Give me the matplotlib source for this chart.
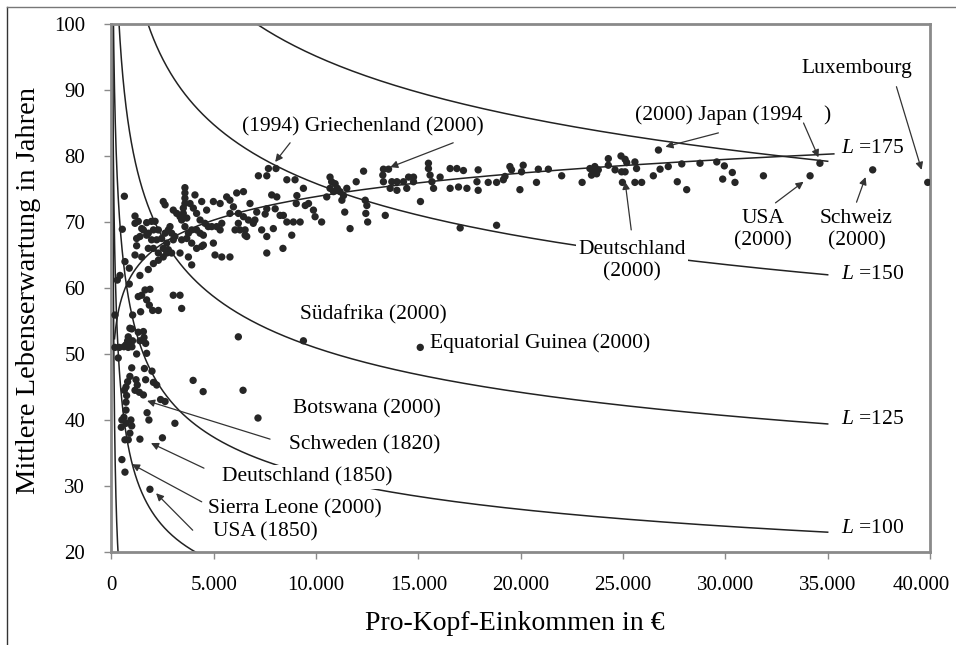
import matplotlib
matplotlib.use('Agg')
import matplotlib.pyplot as plt
import numpy as np
from matplotlib.ticker import FuncFormatter, MultipleLocator
from matplotlib.lines import Line2D

plt.rcParams['font.family'] = ['Liberation Serif', 'DejaVu Serif']
plt.rcParams['mathtext.fontset'] = 'custom'
plt.rcParams['mathtext.it'] = 'Liberation Serif:italic'
plt.rcParams['mathtext.rm'] = 'Liberation Serif'

# Laender (Einkommen in Euro, Lebenserwartung in Jahren)
low_inc = [990, 1310, 1560, 1590, 1390, 1670, 1720, 820, 790, 900, 1030, 710, 170, 380, 610,
           820, 1000, 1230, 330, 990, 900, 790, 710, 630, 740, 710, 1200, 1260, 1150, 1360,
           1560, 1610, 1670, 1980, 2050, 2210, 2400, 2620, 710, 610, 510, 710, 950, 990, 900,
           820, 660, 1740, 1830, 480, 1390, 3100, 2490, 510, 660, 1880]
low_life = [53.8, 53.3, 53.4, 52.5, 52.0, 51.6, 50.1, 52.6, 52.0, 51.6, 52.0, 51.4, 51.0, 51.0, 51.1,
            51.0, 51.1, 50.0, 49.4, 47.9, 46.6, 45.8, 45.0, 44.5, 43.7, 42.7, 46.1, 45.3, 44.5, 44.2,
            43.8, 47.8, 46.1, 47.4, 45.7, 45.3, 43.1, 42.8, 41.5, 40.4, 40.0, 39.5, 40.0, 39.1, 38.0,
            37.0, 37.0, 41.1, 40.0, 38.9, 37.1, 39.5, 37.3, 34.0, 32.1, 29.5]

mid_inc = [285, 415, 660, 870, 870, 1390, 1800, 1150, 1230, 1880, 1640, 1475, 1720, 1310, 1850,
           2010, 2290, 1425, 1035, 170, 3020, 3350, 3430, 900, 630, 530,
           1150, 1150, 1310, 1480, 1720, 1960, 2130, 1560, 1800, 2050, 2290, 1390, 1720, 1960, 2210,
           1230, 1800, 2050, 2290, 1480, 2050, 2290, 2530, 2700,
           2450, 2620, 2780, 2860, 2940, 3100, 3020, 2700, 2530, 2780, 2940,
           2530, 2620, 3020, 3190, 3350, 3510, 3680, 3590, 3590, 3590, 3590, 3510, 3430, 3590, 3760,
           3920, 4160, 4330, 4490, 3840, 4000, 4160, 4330, 4570, 4730, 4900, 5140, 5310, 5390, 4080,
           4410, 4650, 4980, 5310, 3430, 3680, 3920, 4160, 4410, 3760, 3920, 3350, 4490, 4980, 5060,
           5390, 5790, 6530, 5630, 5790, 6120, 6450, 5960, 6200, 5790, 6450, 6200, 6040, 6280, 6530,
           6690, 6610, 7180, 7590, 7670, 8040, 8570, 8970, 9380]
mid_life = [61.2, 61.9, 64.0, 63.0, 60.6, 61.9, 62.8, 65.0, 67.5, 59.8, 59.7, 58.9, 58.2, 58.7, 57.4,
            56.6, 56.6, 56.4, 55.9, 55.9, 58.9, 58.9, 56.9, 53.9, 73.9, 68.9,
            70.9, 69.8, 70.1, 69.0, 69.9, 70.1, 70.1, 68.8, 68.3, 68.8, 68.8, 67.8, 68.0, 67.3, 67.3,
            66.4, 66.0, 66.0, 65.3, 64.7, 63.7, 64.2, 64.7, 65.3,
            67.5, 68.3, 68.8, 69.3, 68.3, 67.8, 67.3, 66.8, 66.0, 65.8, 65.3,
            73.1, 72.6, 71.8, 71.3, 70.8, 71.3, 70.6, 75.2, 74.4, 73.6, 72.8, 72.1, 70.3, 69.3, 68.3,
            68.8, 68.8, 68.3, 68.0, 72.8, 72.1, 71.3, 70.3, 69.8, 69.3, 69.3, 69.3, 68.8, 69.8, 74.1,
            73.1, 71.8, 73.1, 72.8, 67.3, 67.5, 66.8, 66.0, 66.3, 64.7, 63.5, 65.3, 66.5, 66.8, 65.0,
            64.7, 64.7, 68.0, 73.8, 73.3, 74.4, 74.6, 72.3, 71.3, 71.3, 70.8, 69.8, 68.8, 68.8, 68.8,
            70.3, 67.8, 77.0, 77.0, 78.1, 78.1, 76.4, 76.4, 75.1]

band_inc = [6770, 7100, 7010, 6930, 7340, 7590, 7510, 7590, 7830, 8080, 8000, 8240, 8400, 8570, 8890,
            9220, 7910, 8810, 7590, 8380, 9060, 9030, 9470, 9870, 9950, 10270, 9630, 10520, 10850,
            11340, 11260, 11400, 11660, 12400, 12480, 12430, 12520, 13380, 15100, 17040,
            10680, 10760, 10930, 11040, 10680, 11170, 11500, 12320, 11960, 13290, 13540, 13260, 13290,
            13700, 13950, 14270, 14520, 14760, 14760, 13620, 13950, 14430, 15490, 15490, 15570, 15660,
            15740, 16060, 16550, 16880, 17200, 16550, 16960, 17370, 17860]
band_life = [72.8, 71.5, 70.3, 69.8, 68.8, 67.8, 71.2, 72.0, 74.1, 73.8, 72.0, 71.0, 71.0, 70.0, 70.0,
             70.0, 69.0, 68.0, 65.3, 66.0, 74.0, 72.8, 72.5, 71.8, 70.8, 70.0, 72.8, 73.8, 74.6,
             74.0, 73.3, 71.5, 69.0, 73.3, 72.5, 71.3, 70.0, 71.0, 73.1, 69.1,
             76.8, 76.1, 75.8, 75.1, 75.1, 74.6, 75.1, 77.7, 76.1, 78.0, 78.0, 77.1, 76.1,
             76.1, 76.1, 76.1, 76.8, 76.8, 76.1, 75.1, 74.8, 75.1, 78.9, 78.1, 77.1, 76.1,
             75.1, 76.8, 78.1, 78.1, 77.8, 75.1, 75.3, 75.1, 76.1]

rich_inc = [17920, 17920, 18410, 18820, 19230, 19150, 19470, 19550, 20120, 20040, 19960, 20770, 20860,
            21350, 22000, 23000, 23380, 23540, 23620, 23710, 23460, 23790, 24280, 24280, 24610, 24930,
            25100, 24900, 25100, 25180, 24970, 25580, 25660, 25580, 25910, 26480, 26730, 26810, 27210,
            27870, 27650, 28110, 28760, 29580, 29950, 30340, 29870, 30470, 31860, 34140, 34620, 37200,
            39890, 18820]
rich_life = [77.9, 74.8, 76.0, 76.0, 76.9, 76.4, 78.4, 77.9, 78.6, 77.6, 74.9, 76.0, 78.0,
             78.0, 77.0, 76.0, 78.1, 77.6, 78.4, 77.3, 77.1, 77.9, 79.6, 78.6, 77.9, 77.6,
             77.6, 80.0, 79.5, 79.0, 76.0, 79.1, 78.1, 76.0, 76.0, 77.0, 80.9, 78.0, 78.4,
             78.8, 76.1, 74.9, 78.9, 79.1, 78.5, 77.5, 76.5, 76.0, 77.0, 77.0, 78.9, 77.9,
             76.0, 69.5]

out_inc = [6200, 9380, 15090, 3990, 4480, 6430, 7160]
out_life = [52.6, 52.0, 51.0, 46.0, 44.3, 44.5, 40.3]

trend_a, trend_b = 26.6, 5.13
trend_from, trend_to = 150, 35300

iso_L = [175, 150, 125, 100, 75, 50]
iso_p1 = [(7100, 100), (1784, 100), (370, 100), (1050, 55.2), (1000, 33.5), (170, 35.5)]
iso_p2 = [(35000, 79.2), (35000, 62.0), (35000, 39.4), (35000, 23.0), (4100, 20.0), (320, 20.0)]
iso_label_y = {175: 81.2, 150: 62.0, 125: 40.0, 100: 23.6}

inc = np.concatenate([low_inc, mid_inc, band_inc, rich_inc, out_inc])
life = np.concatenate([low_life, mid_life, band_life, rich_life, out_life])

fig = plt.figure(figsize=(9.56, 6.45), dpi=100)
ax = fig.add_axes([0.1166, 0.1442, 0.8562, 0.8186])

ink = '#222222'
grey = '#8a8a8a'

for L, (c1, y1), (c2, y2) in zip(iso_L, iso_p1, iso_p2):
    k = np.log(y1 / y2) / np.log(c2 / c1)
    c = np.geomspace(10, 35000, 600)
    ax.plot(c, y1 * (c1 / c) ** k, color=ink, lw=1.1, zorder=2)
    if L in iso_label_y:
        ax.text(35650, iso_label_y[L], r'$L$ =%d' % L, fontsize=15.5, va='center', ha='left', zorder=4)

ct = np.geomspace(trend_from, trend_to, 400)
ax.plot(ct, trend_a + trend_b * np.log(ct), color=ink, lw=1.1, zorder=2)

ax.scatter(inc, life, s=28, color='#262626', edgecolors='none', zorder=3)

box = dict(facecolor='white', edgecolor='none', pad=1.5)
fs = 15.5
arr = dict(arrowstyle='-|>', color='#333333', lw=0.9, mutation_scale=11, shrinkA=0, shrinkB=0)

ax.text(6390, 84.4, '(1994) Griechenland (2000)', fontsize=fs, va='center', ha='left', zorder=4)
ax.annotate('', xy=(8000, 79.1), xytext=(8730, 82.0), arrowprops=arr, zorder=4)
ax.annotate('', xy=(13620, 78.3), xytext=(16700, 82.0), arrowprops=arr, zorder=4)

ax.text(25600, 86.2, '(2000) Japan (1994    )', fontsize=fs, va='center', ha='left', zorder=4)
ax.annotate('', xy=(27070, 81.4), xytext=(29660, 83.5), arrowprops=arr, zorder=4)
ax.annotate('', xy=(34550, 79.8), xytext=(33820, 85.0), arrowprops=arr, zorder=4)

ax.text(33720, 93.3, 'Luxembourg', fontsize=fs, va='center', ha='left', zorder=4)
ax.annotate('', xy=(39590, 77.9), xytext=(38360, 90.5), arrowprops=arr, zorder=4)

ax.text(31860, 68.8, 'USA\n(2000)', fontsize=fs, va='center', ha='center', zorder=4, bbox=box)
ax.annotate('', xy=(33820, 76.1), xytext=(32450, 72.9), arrowprops=arr, zorder=4)

ax.text(36410, 68.8, 'Schweiz\n(2000)', fontsize=fs, va='center', ha='center', zorder=4, bbox=box)
ax.annotate('', xy=(36850, 76.8), xytext=(36410, 73.0), arrowprops=arr, zorder=4)

ax.text(25450, 64.1, 'Deutschland\n(2000)', fontsize=fs, va='center', ha='center', zorder=4, bbox=box)
ax.annotate('', xy=(25100, 76.1), xytext=(25400, 68.8), arrowprops=arr, zorder=4)

ax.text(9220, 55.9, 'Südafrika (2000)', fontsize=fs, va='center', ha='left', zorder=4, bbox=box)
ax.text(15570, 51.7, 'Equatorial Guinea (2000)', fontsize=fs, va='center', ha='left', zorder=4, bbox=box)
ax.text(8880, 41.7, 'Botswana (2000)', fontsize=fs, va='center', ha='left', zorder=4, bbox=box)

ax.text(8680, 36.2, 'Schweden (1820)', fontsize=fs, va='center', ha='left', zorder=4, bbox=box)
ax.annotate('', xy=(1740, 42.9), xytext=(7750, 37.1), arrowprops=arr, zorder=4)

ax.text(5400, 31.4, 'Deutschland (1850)', fontsize=fs, va='center', ha='left', zorder=4, bbox=box)
ax.annotate('', xy=(1930, 36.5), xytext=(4520, 32.7), arrowprops=arr, zorder=4)

ax.text(4720, 26.5, 'Sierra Leone (2000)', fontsize=fs, va='center', ha='left', zorder=4, bbox=box)
ax.annotate('', xy=(1000, 33.3), xytext=(4410, 27.6), arrowprops=arr, zorder=4)

ax.text(4960, 23.0, 'USA (1850)', fontsize=fs, va='center', ha='left', zorder=4, bbox=box)
ax.annotate('', xy=(2180, 28.9), xytext=(3970, 23.3), arrowprops=arr, zorder=4)

ax.set_xlim(0, 40000)
ax.set_ylim(20, 100)
ax.xaxis.set_major_locator(MultipleLocator(5000))
ax.yaxis.set_major_locator(MultipleLocator(10))


def euro_fmt(v, p):
    # the last label sits a little inside the frame, drawn separately below
    if v >= 40000:
        return ''
    return '{:,}'.format(int(v)).replace(',', '.')


ax.xaxis.set_major_formatter(FuncFormatter(euro_fmt))
for s in ax.spines.values():
    s.set_color(grey)
    s.set_linewidth(2)
ax.tick_params(direction='out', length=5, width=1, color=grey, labelsize=15)
ax.tick_params(axis='x', pad=12)
ax.tick_params(axis='y', pad=14)
ax.annotate('40.000', xy=(40000, 20), xycoords='data', xytext=(-6, -17), textcoords='offset points',
            ha='center', va='top', fontsize=15, annotation_clip=False)

fig.text(0.539, 0.034, 'Pro-Kopf-Einkommen in €', fontsize=20, ha='center', va='center')
fig.text(0.030, 0.55, 'Mittlere Lebenserwartung in Jahren', fontsize=20.5, ha='center', va='center',
         rotation=90)

fig.add_artist(Line2D([0.0075, 0.0075], [0, 0.989], color='#333333', lw=1, transform=fig.transFigure))
fig.add_artist(Line2D([0.0075, 1], [0.989, 0.989], color='#777777', lw=1, transform=fig.transFigure))

fig.savefig('out.png', dpi=100)
